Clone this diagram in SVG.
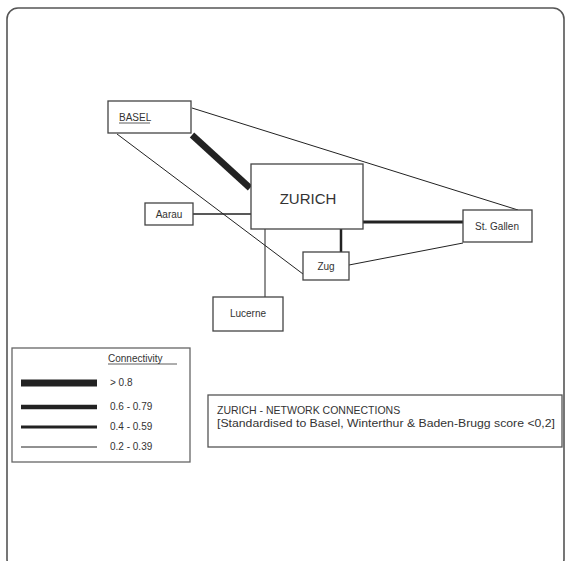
<svg xmlns="http://www.w3.org/2000/svg" width="567" height="561" viewBox="0 0 567 561">
<style>
.box{fill:#fff;stroke:#444;stroke-width:1.3}
.t{font-family:"Liberation Sans",Arial,sans-serif;font-size:10px;fill:#333}
.e{stroke:#222;fill:none}
</style>
<rect x="0" y="0" width="567" height="561" fill="#fff"/>
<rect x="7" y="8" width="557" height="562" rx="11" fill="#fff" stroke="#555" stroke-width="1.6"/>
<g id="connectors">
<line class="e" x1="192" y1="108" x2="518" y2="210" stroke-width="1"/>
<line class="e" x1="117" y1="134" x2="303" y2="274" stroke-width="1"/>
<line class="e" x1="192" y1="135" x2="250" y2="188" stroke-width="6.5"/>
<line class="e" x1="193" y1="214" x2="251" y2="214" stroke-width="1.3"/>
<line class="e" x1="265" y1="229" x2="265" y2="297" stroke-width="1"/>
<line class="e" x1="363" y1="222" x2="463" y2="222" stroke-width="3"/>
<line class="e" x1="341" y1="229" x2="341" y2="252" stroke-width="2.5"/>
<line class="e" x1="349" y1="265" x2="463" y2="243" stroke-width="1"/>
</g>
<g id="basel"><rect class="box" x="108" y="101" width="83" height="32"/><text class="t" x="119" y="121">BASEL</text><line x1="119" y1="123" x2="150" y2="123" stroke="#333" stroke-width="0.8"/></g>
<g id="zurich"><rect class="box" x="251" y="164" width="112" height="65"/><text class="t" x="308" y="204" text-anchor="middle" style="font-size:15px">ZURICH</text></g>
<g id="aarau"><rect class="box" x="145" y="203" width="48" height="22"/><text class="t" x="169" y="218" text-anchor="middle">Aarau</text></g>
<g id="stgallen"><rect class="box" x="463" y="210" width="69" height="32"/><text class="t" x="497" y="230" text-anchor="middle">St. Gallen</text></g>
<g id="zug"><rect class="box" x="303" y="252" width="46" height="28"/><text class="t" x="326" y="270" text-anchor="middle">Zug</text></g>
<g id="lucerne"><rect class="box" x="213" y="297" width="70" height="34"/><text class="t" x="248" y="317" text-anchor="middle">Lucerne</text></g>
<g id="legend">
<rect x="12" y="348" width="178" height="114" fill="#fff" stroke="#666" stroke-width="1.3"/>
<text class="t" x="108" y="362">Connectivity</text><line x1="108" y1="364" x2="177" y2="364" stroke="#333" stroke-width="0.8"/>
<line class="e" x1="21" y1="383" x2="97" y2="383" stroke-width="7"/>
<line class="e" x1="21" y1="407" x2="97" y2="407" stroke-width="4.5"/>
<line class="e" x1="21" y1="427" x2="97" y2="427" stroke-width="3"/>
<line class="e" x1="21" y1="447" x2="97" y2="447" stroke-width="1"/>
<text class="t" x="110" y="386">&gt; 0.8</text>
<text class="t" x="110" y="410">0.6 - 0.79</text>
<text class="t" x="110" y="430">0.4 - 0.59</text>
<text class="t" x="110" y="450">0.2 - 0.39</text>
</g>
<g id="title">
<rect x="208" y="395" width="354" height="52" fill="#fff" stroke="#555" stroke-width="1.3"/>
<text class="t" x="217" y="414" style="font-size:10.5px">ZURICH - NETWORK CONNECTIONS</text>
<text class="t" x="217" y="427" style="font-size:10.5px" textLength="338" lengthAdjust="spacingAndGlyphs">[Standardised to Basel, Winterthur &amp; Baden-Brugg score &lt;0,2]</text>
</g>
</svg>
